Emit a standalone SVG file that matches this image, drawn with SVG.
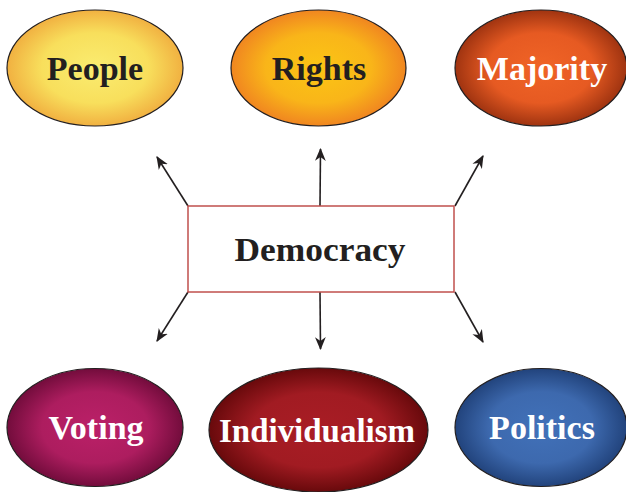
<svg xmlns="http://www.w3.org/2000/svg" width="626" height="492" viewBox="0 0 626 492">
<style>
.node ellipse{stroke:#231f20;stroke-width:1.2}
.lbl{font-family:"Liberation Serif","Times New Roman",serif;font-weight:bold;font-size:34px;text-anchor:middle}
.dark{fill:#231f20}
.light{fill:#ffffff}
.conn line{stroke:#231f20;stroke-width:1.6;marker-end:url(#ah)}
</style>
<defs>
<marker id="ah" viewBox="0 0 12 10" refX="11" refY="5" markerWidth="13" markerHeight="11" markerUnits="userSpaceOnUse" orient="auto">
<path d="M0,0 L12,5 L0,10 L3.5,5 Z" fill="#231f20"/>
</marker>
<radialGradient id="gPeople" cx="50%" cy="50%" r="55%">
<stop offset="0" stop-color="#faec70"/><stop offset="0.55" stop-color="#f8df5c"/><stop offset="1" stop-color="#efa53a"/>
</radialGradient>
<radialGradient id="gRights" cx="50%" cy="50%" r="55%">
<stop offset="0" stop-color="#fbc514"/><stop offset="0.55" stop-color="#f9b519"/><stop offset="1" stop-color="#ee7a22"/>
</radialGradient>
<radialGradient id="gMajority" cx="50%" cy="50%" r="55%">
<stop offset="0" stop-color="#f06426"/><stop offset="0.55" stop-color="#e65a22"/><stop offset="1" stop-color="#8e2a0c"/>
</radialGradient>
<radialGradient id="gVoting" cx="50%" cy="50%" r="55%">
<stop offset="0" stop-color="#bb2068"/><stop offset="0.55" stop-color="#ad1d5f"/><stop offset="1" stop-color="#640833"/>
</radialGradient>
<radialGradient id="gIndiv" cx="50%" cy="50%" r="55%">
<stop offset="0" stop-color="#a91d25"/><stop offset="0.55" stop-color="#a11b22"/><stop offset="1" stop-color="#5a0506"/>
</radialGradient>
<radialGradient id="gPolitics" cx="50%" cy="50%" r="55%">
<stop offset="0" stop-color="#4171b9"/><stop offset="0.55" stop-color="#3d69ae"/><stop offset="1" stop-color="#1b3a70"/>
</radialGradient>
</defs>
<rect width="626" height="492" fill="#ffffff"/>
<g id="connectors" class="conn">
<line x1="188" y1="206" x2="157" y2="157"/>
<line x1="320" y1="206" x2="320.5" y2="149"/>
<line x1="455" y1="206" x2="483" y2="156"/>
<line x1="188" y1="292" x2="157" y2="341"/>
<line x1="320" y1="292" x2="320.5" y2="349"/>
<line x1="455" y1="292" x2="483" y2="342"/>
</g>
<g id="democracy" class="node">
<rect x="188" y="206" width="266" height="86" fill="#ffffff" stroke="#c0504d" stroke-width="1.5"/>
<text class="lbl dark" x="320" y="261" textLength="171" lengthAdjust="spacingAndGlyphs">Democracy</text>
</g>
<g id="people" class="node">
<ellipse cx="95" cy="68" rx="88" ry="58" fill="url(#gPeople)"/>
<text class="lbl dark" x="95" y="80">People</text>
</g>
<g id="rights" class="node">
<ellipse cx="318.5" cy="68" rx="87.5" ry="58" fill="url(#gRights)"/>
<text class="lbl dark" x="319" y="80">Rights</text>
</g>
<g id="majority" class="node">
<ellipse cx="541" cy="68" rx="86" ry="58" fill="url(#gMajority)"/>
<text class="lbl light" x="542" y="80">Majority</text>
</g>
<g id="voting" class="node">
<ellipse cx="95" cy="427.5" rx="88" ry="59" fill="url(#gVoting)"/>
<text class="lbl light" x="96" y="439">Voting</text>
</g>
<g id="individualism" class="node">
<ellipse cx="318.5" cy="430" rx="109.5" ry="62" fill="url(#gIndiv)"/>
<text class="lbl light" x="317" y="442" textLength="196" lengthAdjust="spacingAndGlyphs">Individualism</text>
</g>
<g id="politics" class="node">
<ellipse cx="541" cy="427.5" rx="86" ry="59" fill="url(#gPolitics)"/>
<text class="lbl light" x="542" y="439">Politics</text>
</g>
</svg>
